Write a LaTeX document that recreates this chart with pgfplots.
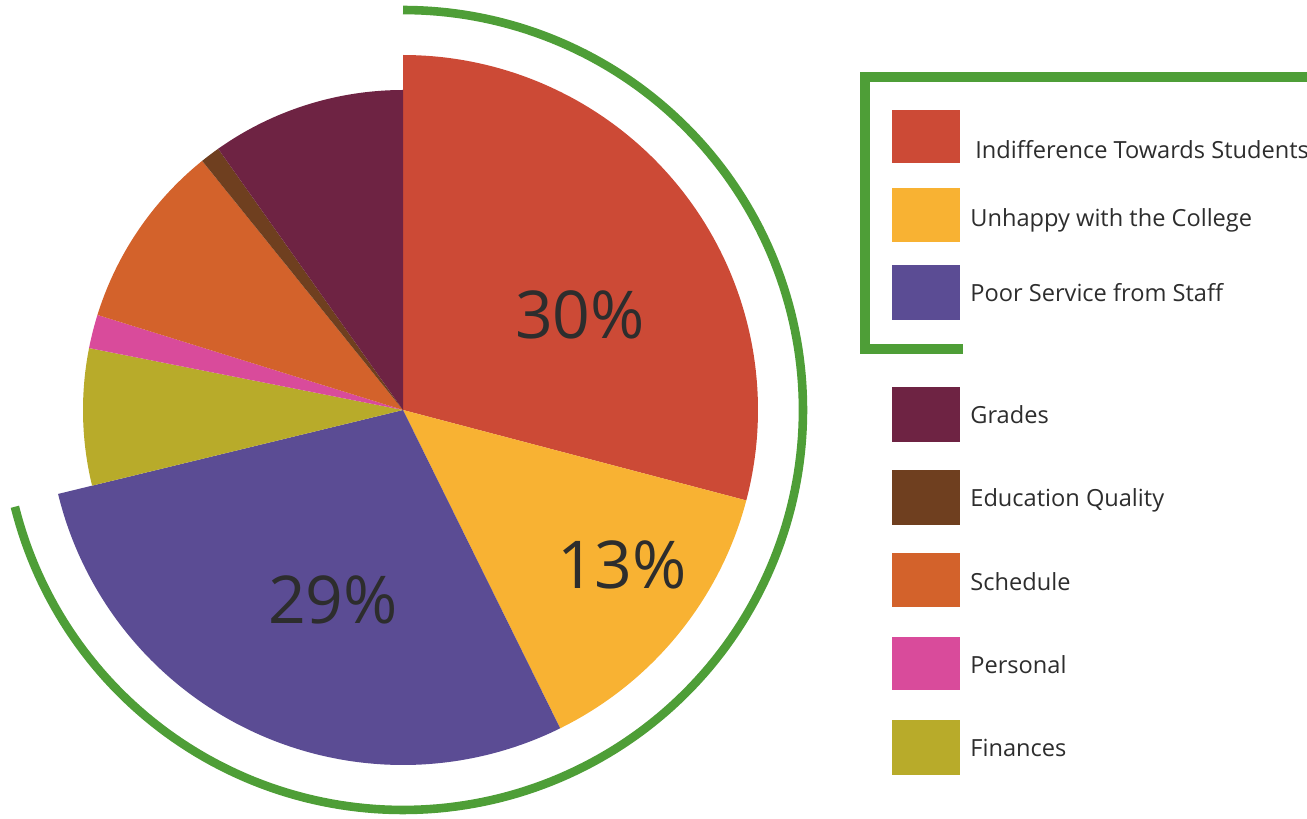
\documentclass[border=0pt]{standalone}
\usepackage{pgfplots}
\pgfplotsset{compat=1.18}
\usepackage{fontspec}
\setmainfont{Open Sans}
\definecolor{cRed}{RGB}{204,74,54}
\definecolor{cYel}{RGB}{248,178,51}
\definecolor{cPur}{RGB}{91,76,148}
\definecolor{cGra}{RGB}{110,35,67}
\definecolor{cEdu}{RGB}{111,63,31}
\definecolor{cSch}{RGB}{211,98,43}
\definecolor{cPer}{RGB}{217,75,155}
\definecolor{cFin}{RGB}{184,171,42}
\definecolor{cGrn}{RGB}{78,158,55}
\definecolor{cTxt}{RGB}{45,45,45}
% slice: #1 cumulative share before slice (%), #2 share (%), #3 radius (px), #4 colour
\newcommand{\pieslice}[4]{%
  \addplot[fill=#4, draw=none, domain={90-3.6*(#1+#2)}:{90-3.6*(#1)}, samples=120, variable=\t]
    ({403+#3*cos(\t)},{409+#3*sin(\t)}) -- (axis cs:403,409) -- cycle;}
\begin{document}
\begin{tikzpicture}
\useasboundingbox (0,0) rectangle (653.5pt,409.5pt);
\begin{axis}[x=0.5pt, y=0.5pt, xmin=0, xmax=1307, ymin=0, ymax=819,
  hide axis, clip=false, anchor=origin, at={(0pt,0pt)}]
% shares (%): Indifference 29.1, Unhappy 13.6, Poor Service 28.5, Finances 6.9,
% Personal 1.7, Schedule 9.4, Education Quality 1.0, Grades 9.8
\pieslice{0}{29.1}{355}{cRed}
\pieslice{29.1}{13.6}{355}{cYel}
\pieslice{42.7}{28.5}{355}{cPur}
\pieslice{71.2}{6.9}{320}{cFin}
\pieslice{78.1}{1.7}{320}{cPer}
\pieslice{79.8}{9.4}{320}{cSch}
\pieslice{89.2}{1.0}{320}{cEdu}
\pieslice{90.2}{9.8}{320}{cGra}
% green arc
\addplot[draw=cGrn, line width=4.3pt, domain=-166:90, samples=200, variable=\t]
  ({403+400*cos(\t)},{409+400*sin(\t)});
% percentage labels
\node[font=\fontsize{33}{36}\selectfont, text=cTxt] at (axis cs:580,504) {30\%};
\node[font=\fontsize{33}{36}\selectfont, text=cTxt] at (axis cs:622,254) {13\%};
\node[font=\fontsize{33}{36}\selectfont, text=cTxt] at (axis cs:333,219) {29\%};
% legend frame
\addplot[draw=cGrn, line width=5pt, line join=miter, mark=none] coordinates {(1330,742) (865,742) (865,470) (963,470)};
% legend swatches
\fill[cRed] (axis cs:892,709) rectangle (axis cs:960,656);
\fill[cYel] (axis cs:892,631) rectangle (axis cs:960,577);
\fill[cPur] (axis cs:892,554) rectangle (axis cs:960,499);
\fill[cGra] (axis cs:892,432) rectangle (axis cs:960,377);
\fill[cEdu] (axis cs:892,349) rectangle (axis cs:960,294);
\fill[cSch] (axis cs:892,266) rectangle (axis cs:960,212);
\fill[cPer] (axis cs:892,182) rectangle (axis cs:960,129);
\fill[cFin] (axis cs:892,99) rectangle (axis cs:960,44);
\begin{scope}[every node/.style={anchor=west, inner sep=0pt, text=cTxt, font=\fontsize{11.8}{14}\selectfont}]
\node at (axis cs:975,669) {Indifference Towards Students};
\node at (axis cs:970,599) {Unhappy with the College};
\node at (axis cs:970,526) {Poor Service from Staff};
\node at (axis cs:970,404) {Grades};
\node at (axis cs:970,319) {Education Quality};
\node at (axis cs:970,237) {Schedule};
\node at (axis cs:970,154) {Personal};
\node at (axis cs:970,71) {Finances};
\end{scope}
\end{axis}
\end{tikzpicture}
\end{document}
